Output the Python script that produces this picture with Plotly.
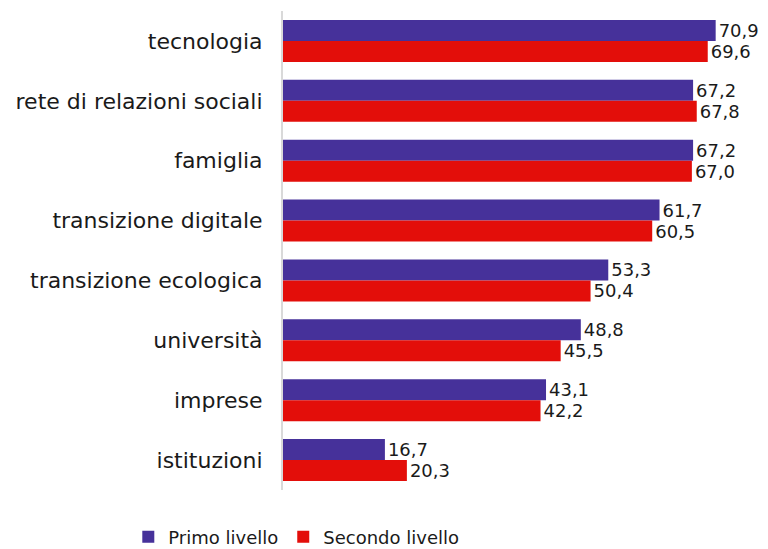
import plotly.graph_objects as go

categories = ["tecnologia", "rete di relazioni sociali", "famiglia", "transizione digitale",
              "transizione ecologica", "università", "imprese", "istituzioni"]
primo = [70.9, 67.2, 67.2, 61.7, 53.3, 48.8, 43.1, 16.7]
secondo = [69.6, 67.8, 67.0, 60.5, 50.4, 45.5, 42.2, 20.3]

FONT = "DejaVu Sans"

fig = go.Figure()
fig.add_trace(go.Bar(
    y=categories, x=primo, orientation="h", name="Primo livello",
    marker=dict(color="#46319a", line=dict(width=0)),
    text=[f"{v:.1f}".replace(".", ",") for v in primo], textposition="outside",
    textfont=dict(family=FONT, size=18, color="#1a1a1a"), cliponaxis=False,
))
fig.add_trace(go.Bar(
    y=categories, x=secondo, orientation="h", name="Secondo livello",
    marker=dict(color="#e30e0a", line=dict(width=0)),
    text=[f"{v:.1f}".replace(".", ",") for v in secondo], textposition="outside",
    textfont=dict(family=FONT, size=18, color="#1a1a1a"), cliponaxis=False,
))

fig.update_layout(
    width=768, height=549,
    margin=dict(l=283, r=9, t=11, b=59, autoexpand=False),
    paper_bgcolor="white", plot_bgcolor="white",
    barmode="group", bargap=0.3, bargroupgap=0,
    font=dict(family=FONT, size=18, color="#1a1a1a"),
    showlegend=True,
    legend=dict(orientation="h", x=-0.325, xanchor="left", y=-0.098, yanchor="middle",
                font=dict(family=FONT, size=18, color="#1a1a1a"),
                itemwidth=30, traceorder="normal"),
    xaxis=dict(range=[0, 78], visible=False, showgrid=False, zeroline=False),
    yaxis=dict(autorange="reversed", showline=True, linecolor="#d9d9d9", linewidth=2,
               ticks="", showgrid=False, ticklabelstandoff=14, automargin=False,
               tickfont=dict(family=FONT, size=22, color="#1a1a1a")),
)

fig.write_html("out.html", config={"displayModeBar": False},
               post_script="document.body.style.margin='0px';")
